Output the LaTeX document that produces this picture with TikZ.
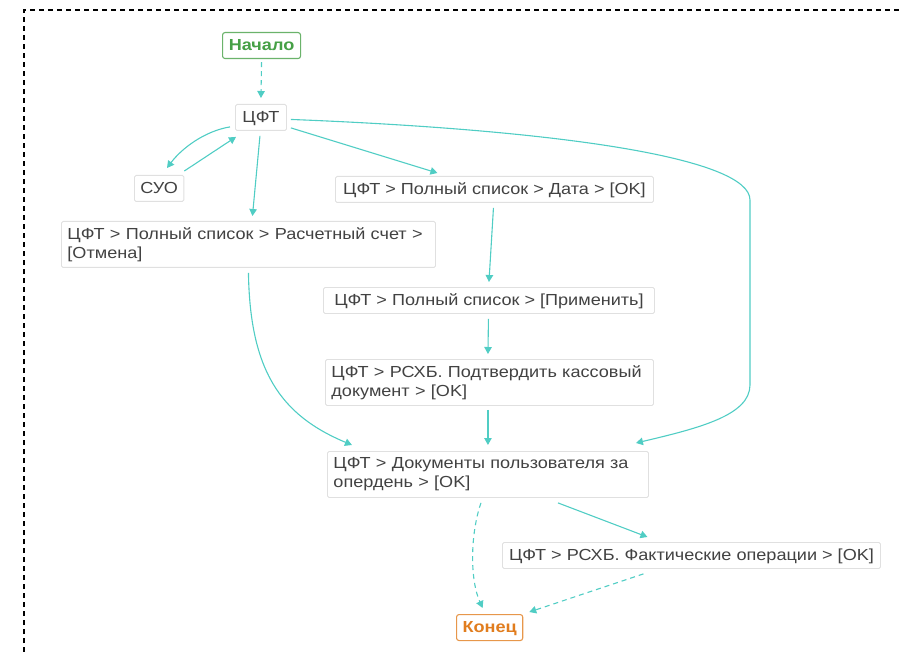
\documentclass[tikz,border=0pt]{standalone}
\usepackage{fontspec}
\setmainfont{Liberation Sans}[FakeStretch=1.13]
\usetikzlibrary{arrows.meta}
\definecolor{teal}{RGB}{80,205,196}
\definecolor{boxgray}{RGB}{224,224,224}
\definecolor{txtgray}{RGB}{66,66,66}
\definecolor{startgreen}{RGB}{70,160,70}
\definecolor{endorange}{RGB}{225,125,30}
\tikzset{
  basebox/.style={draw=boxgray, fill=white, rounded corners=1.5pt, line width=0.9pt,
    inner xsep=6pt, inner ysep=0pt, anchor=north west,
    text=txtgray, font=\fontsize{16}{19}\selectfont},
  box/.style={basebox, minimum height=26pt, text height=13pt, text depth=3pt},
  box2/.style={basebox, minimum height=46pt, align=left},
  startbox/.style={box, draw=startgreen!80, text=startgreen, font=\fontsize{16}{19}\selectfont\bfseries, rounded corners=2.5pt, line width=1.1pt},
  endbox/.style={box, draw=endorange!80, text=endorange, font=\fontsize{16}{19}\selectfont\bfseries, rounded corners=2.5pt, line width=1.1pt},
  conn/.style={draw=teal, line width=1.1pt, -{Triangle[length=7pt,width=7.5pt]}},
  dconn/.style={conn, dash pattern=on 5pt off 4pt},
}
\begin{document}
\begin{tikzpicture}[x=1pt,y=-1pt]
\useasboundingbox (0,0) rectangle (899,652);
\draw[black, line width=1.1pt, dash pattern=on 5pt off 4pt] (24,652) -- (24,10) -- (899,10);

\node[startbox, minimum width=78pt] (start) at (222,32) {Начало};
\node[box, minimum width=51pt] (cft) at (235,104) {ЦФТ};
\node[box, minimum width=49pt] (suo) at (134,175) {СУО};
\node[box, minimum width=318pt] (date) at (335,176) {ЦФТ > Полный список > Дата > [OK]};
\node[box2, text width=362pt] (acc) at (61,221) {ЦФТ > Полный список > Расчетный счет >\\\relax[Отмена]};
\node[box, minimum width=331pt] (apply) at (323,287) {ЦФТ > Полный список > [Применить]};
\node[box2, text width=316pt] (confirm) at (325,359) {ЦФТ > РСХБ. Подтвердить кассовый\\документ > [OK]};
\node[box2, text width=309pt] (docs) at (327,451) {ЦФТ > Документы пользователя за\\опердень > [OK]};
\node[box, minimum width=378pt] (fact) at (502,542) {ЦФТ > РСХБ. Фактические операции > [OK]};
\node[endbox, minimum width=66pt] (end) at (456,614) {Конец};

\draw[dconn] ([shift={(0,3)}]start.south) -- ([shift={(0,-6)}]cft.north);
\draw[conn] ([shift={(-5,-4)}]cft.south west) .. controls (205,131) and (182,148) .. ([shift={(33,-7)}]suo.north west);
\draw[conn] ([shift={(0,-4)}]suo.north east) -- ([shift={(1,6)}]cft.south west);
\draw[conn] ([shift={(-1,5)}]cft.south) -- ([shift={(4,-5)}]acc.north);
\draw[conn] ([shift={(4,-3)}]cft.south east) -- ([shift={(-57,-3)}]date.north);
\draw[conn] ([shift={(4,2)}]cft.east) .. controls (560,130) and (750,158) .. (750,200) -- (750,385) .. controls (750,415) and (700,428) .. ([shift={(148,-8)}]docs.north);
\draw[conn] ([shift={(-1,5)}]date.south) -- ([shift={(0,-5)}]apply.north);
\draw[conn] ([shift={(-0.5,5)}]apply.south) -- ([shift={(-1.5,-5)}]confirm.north);
\draw[conn] ([shift={(-1.5,4)}]confirm.south) -- ([shift={(0,-6)}]docs.north);
\draw[conn] ([shift={(0,5)}]acc.south) .. controls (250,370) and (280,415) .. ([shift={(-136,-6)}]docs.north);
\draw[conn] ([shift={(70,5)}]docs.south) -- ([shift={(-44,-5)}]fact.north);
\draw[dconn] ([shift={(-7,5)}]docs.south) .. controls (470,535) and (470,580) .. ([shift={(-7,-6)}]end.north);
\draw[dconn] ([shift={(-48,5)}]fact.south) -- ([shift={(6,-2)}]end.north east);
\end{tikzpicture}
\end{document}
